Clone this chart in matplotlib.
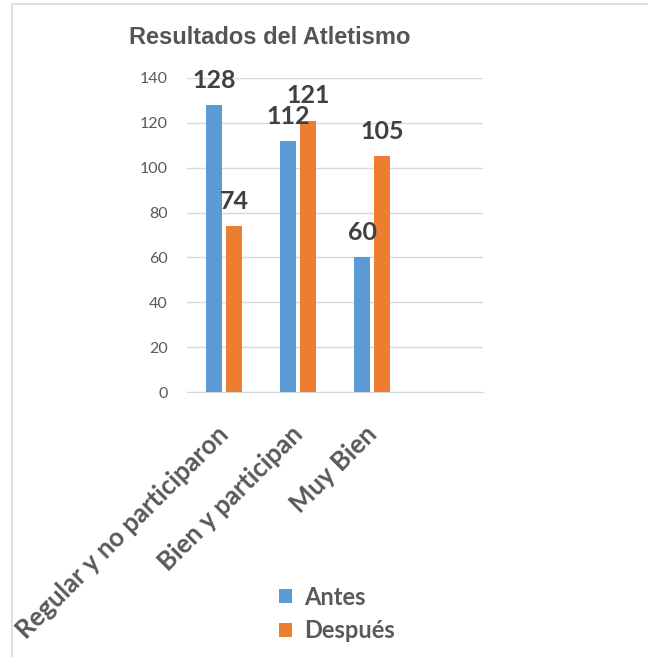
import matplotlib
matplotlib.use('Agg')
import matplotlib.pyplot as plt
import matplotlib.transforms as mtransforms
import numpy as np
from matplotlib.patches import Rectangle

categories = ["Regular y no participaron", "Bien y participan", "Muy Bien"]
antes = [128, 112, 60]
despues = [74, 121, 105]
series_names = ["Antes", "Después"]
colors = ["#5B9BD5", "#ED7D31"]

plt.rcParams['font.family'] = ['Lato', 'DejaVu Sans']

fig = plt.figure(figsize=(6.48, 6.57), dpi=100)
ax = fig.add_axes([0.2886, 0.4033, 0.4568, 0.478])

# chart frame like the excel box
fig.patches.append(Rectangle((12/648, -0.1), 1.2, 1 - 4/657 + 0.1, transform=fig.transFigure,
                             fill=False, edgecolor="#D9D9D9", lw=1.2))

x = np.arange(len(categories))
w = 0.22
off = 0.135
b1 = ax.bar(x - off, antes, w, color=colors[0], label=series_names[0], zorder=3)
b2 = ax.bar(x + off, despues, w, color=colors[1], label=series_names[1], zorder=3)

for xs, vals in [(x - off, antes), (x + off, despues)]:
    for xi, v in zip(xs, vals):
        ax.text(xi, v + 11, str(v), ha='center', va='center', fontsize=18,
                fontweight='bold', color="#404040", zorder=4)

ax.set_xlim(-0.5, 3.5)
ax.set_ylim(0, 140)
ax.set_yticks(np.arange(0, 141, 20))
ax.yaxis.grid(True, color="#D9D9D9", lw=1)
ax.set_axisbelow(True)
for s in ["top", "right", "left"]:
    ax.spines[s].set_visible(False)
ax.spines["bottom"].set_color("#D9D9D9")
ax.tick_params(axis='y', length=0, pad=14, labelsize=11.5, labelcolor="#595959")
ax.tick_params(axis='x', length=0, pad=20)
ax.set_xticks(x)
ax.set_xticklabels(categories, rotation=45, ha='right', rotation_mode='anchor',
                   fontsize=18.5, fontweight='bold', color="#595959")
# nudge the rotated labels a bit left like in excel
shift = mtransforms.ScaledTranslation(-8/100, -2/100, fig.dpi_scale_trans)
for lab in ax.get_xticklabels():
    lab.set_transform(lab.get_transform() + shift)

fig.text(270/648, 1 - 37/657, "Resultados del Atletismo", ha='center', va='center',
         fontsize=17, fontweight='bold', color="#555555",
         family=['Liberation Sans', 'DejaVu Sans'])

fig.legend(handles=[b1, b2], loc='center left', bbox_to_anchor=(258/648, 1 - 614/657),
           frameon=False, prop={'size': 17, 'weight': 'bold'}, labelcolor="#595959",
           handlelength=0.55, handleheight=0.55, handletextpad=0.5, labelspacing=0.45)

fig.savefig("out.png", dpi=100)
